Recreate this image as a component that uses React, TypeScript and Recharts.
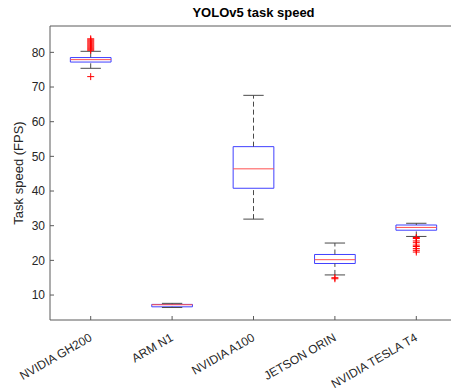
import React from 'react';
import { ComposedChart, XAxis, YAxis, Scatter, ReferenceArea, ReferenceLine } from 'recharts';

// box plot stats per device (FPS)
const categories = ['NVIDIA GH200', 'ARM N1', 'NVIDIA A100', 'JETSON ORIN', 'NVIDIA TESLA T4'];
const lowerWhisker = [75.4, 6.4, 31.9, 15.8, 26.9];
const q1 = [77.2, 6.6, 40.8, 19.1, 28.7];
const median = [77.9, 7.2, 46.4, 20.2, 29.5];
const q3 = [78.5, 7.3, 52.8, 21.7, 30.2];
const upperWhisker = [80.3, 7.6, 67.6, 25.0, 30.7];

const gh200Outliers = [73.0, 80.6, 80.9, 81.2, 81.5, 81.8, 82.1, 82.4, 82.7, 83.0, 83.3, 83.6, 83.9];
const armOutliers: number[] = [];
const a100Outliers: number[] = [];
const orinOutliers = [14.7, 15.0];
const t4Outliers = [26.6, 26.3, 25.6, 25.1, 24.4, 24.0, 23.4, 22.9, 22.4];
const outliers = [gh200Outliers, armOutliers, a100Outliers, orinOutliers, t4Outliers];

const yTicks = [10, 20, 30, 40, 50, 60, 70, 80];
const xTicks = [1, 2, 3, 4, 5];

const font = '"Liberation Sans", Arial, Helvetica, sans-serif';
const axisColor = '#5a5a5a';
const textColor = '#262626';
const BOX_HALF = 0.25;
const CAP_HALF = 0.125;

const outlierPoints = outliers.flatMap((vals, i) => vals.map((v) => ({ x: i + 1, y: v })));

const BottomTick = (props: any) => {
  const { x, y, payload } = props;
  const tx = x + 2;
  const ty = y + 20;
  return (
    <g>
      <line x1={x} y1={y} x2={x} y2={y - 4} stroke={axisColor} />
      <text x={tx} y={ty} textAnchor="end" transform={`rotate(-30 ${tx} ${ty})`}
        fontSize={12} fill={textColor} fontFamily={font}>
        {categories[payload.value - 1]}
      </text>
    </g>
  );
};

const TopTick = (props: any) => {
  const { x, y } = props;
  return <line x1={x} y1={y} x2={x} y2={y + 4} stroke={axisColor} />;
};

const LeftTick = (props: any) => {
  const { x, y, payload } = props;
  return (
    <g>
      <line x1={x} y1={y} x2={x + 4} y2={y} stroke={axisColor} />
      <text x={x - 5} y={y} dy="0.36em" textAnchor="end" fontSize={12} fill={textColor} fontFamily={font}>
        {payload.value}
      </text>
    </g>
  );
};

const RightTick = (props: any) => {
  const { x, y } = props;
  return <line x1={x} y1={y} x2={x - 4} y2={y} stroke={axisColor} />;
};

const Plus = (props: any) => {
  const { cx, cy } = props;
  return (
    <path d={`M${cx - 3.5},${cy}H${cx + 3.5}M${cx},${cy - 3.5}V${cy + 3.5}`}
      stroke="#ff0000" strokeWidth={1} fill="none" />
  );
};

export default function App() {
  return (
    <div style={{ position: 'absolute', left: 0, top: 0, width: 451, height: 390, overflow: 'hidden', background: '#fff' }}>
      <ComposedChart width={460} height={390} margin={{ top: 25, right: 2, bottom: 0, left: 0 }}>
        <XAxis xAxisId={0} type="number" dataKey="x" domain={[0.5, 5.5]} ticks={xTicks} allowDataOverflow
          height={70} tickSize={0} tickMargin={0} tickLine={false} tick={<BottomTick />}
          axisLine={{ stroke: axisColor }} interval={0} />
        <XAxis xAxisId="top" orientation="top" type="number" domain={[0.5, 5.5]} ticks={xTicks} allowDataOverflow
          height={1} tickSize={0} tickMargin={0} tickLine={false} tick={<TopTick />}
          axisLine={{ stroke: axisColor }} interval={0} />
        <YAxis yAxisId={0} type="number" dataKey="y" domain={[2.8, 87.6]} ticks={yTicks} allowDataOverflow
          width={50} tickSize={0} tickMargin={0} tickLine={false} tick={<LeftTick />}
          axisLine={{ stroke: axisColor }} interval={0} />
        <YAxis yAxisId="right" orientation="right" type="number" domain={[2.8, 87.6]} ticks={yTicks} allowDataOverflow
          width={1} tickSize={0} tickMargin={0} tickLine={false} tick={<RightTick />}
          axisLine={{ stroke: axisColor }} interval={0} />

        {categories.map((c, i) => (
          <ReferenceLine key={`wu-${c}`} segment={[{ x: i + 1, y: q3[i] }, { x: i + 1, y: upperWhisker[i] }]}
            stroke="#4a4a4a" strokeDasharray="5 3" />
        ))}
        {categories.map((c, i) => (
          <ReferenceLine key={`wl-${c}`} segment={[{ x: i + 1, y: lowerWhisker[i] }, { x: i + 1, y: q1[i] }]}
            stroke="#4a4a4a" strokeDasharray="5 3" />
        ))}
        {categories.map((c, i) => (
          <ReferenceLine key={`cu-${c}`} segment={[{ x: i + 1 - CAP_HALF, y: upperWhisker[i] }, { x: i + 1 + CAP_HALF, y: upperWhisker[i] }]}
            stroke="#4a4a4a" />
        ))}
        {categories.map((c, i) => (
          <ReferenceLine key={`cl-${c}`} segment={[{ x: i + 1 - CAP_HALF, y: lowerWhisker[i] }, { x: i + 1 + CAP_HALF, y: lowerWhisker[i] }]}
            stroke="#4a4a4a" />
        ))}
        {categories.map((c, i) => (
          <ReferenceArea key={`box-${c}`} x1={i + 1 - BOX_HALF} x2={i + 1 + BOX_HALF} y1={q1[i]} y2={q3[i]}
            fill="none" fillOpacity={0} stroke="#4040ff" strokeWidth={1} />
        ))}
        {categories.map((c, i) => (
          <ReferenceLine key={`med-${c}`} segment={[{ x: i + 1 - BOX_HALF, y: median[i] }, { x: i + 1 + BOX_HALF, y: median[i] }]}
            stroke="#ff5050" />
        ))}

        <Scatter data={outlierPoints} shape={<Plus />} isAnimationActive={false} />
      </ComposedChart>
      <svg width={451} height={390} style={{ position: 'absolute', left: 0, top: 0, pointerEvents: 'none' }}>
        <text x={253.5} y={17} textAnchor="middle" fontSize={13} fontWeight="bold" fill="#000" fontFamily={font}>
          YOLOv5 task speed
        </text>
        <text x={23} y={173} textAnchor="middle" transform="rotate(-90 23 173)" fontSize={13} fill={textColor} fontFamily={font}>
          Task speed (FPS)
        </text>
      </svg>
    </div>
  );
}
